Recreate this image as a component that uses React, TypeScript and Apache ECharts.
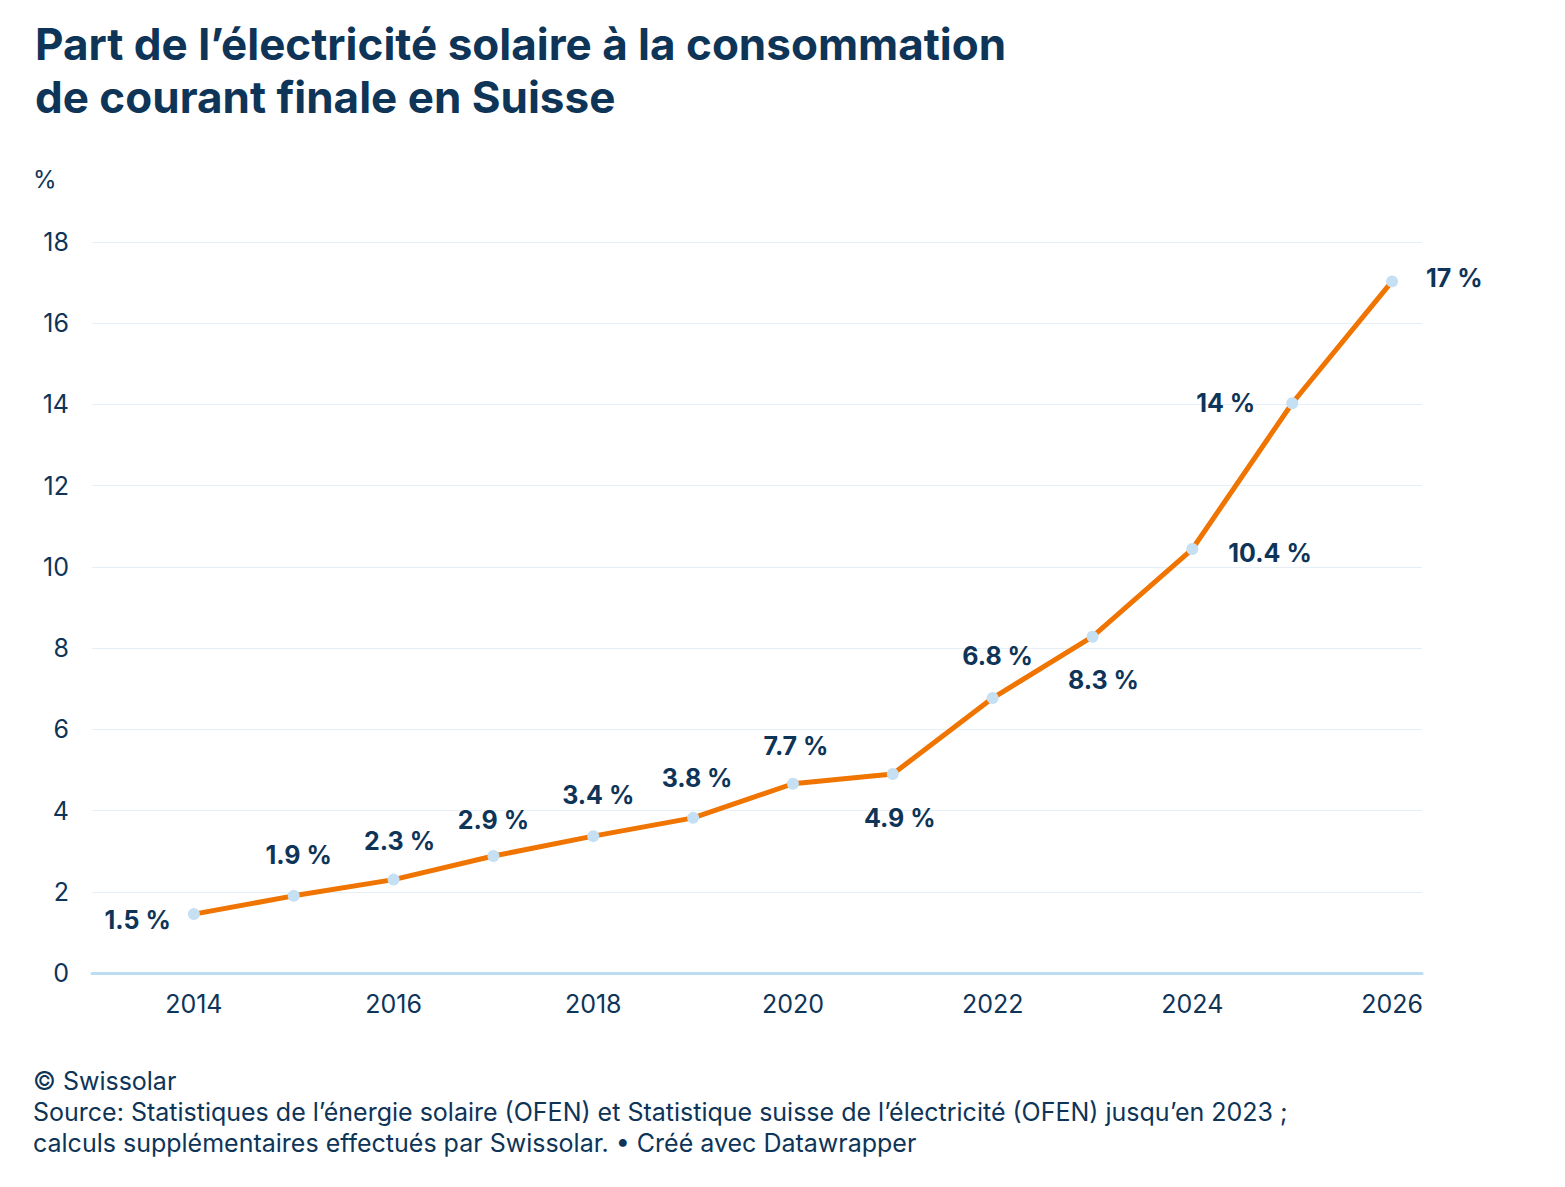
import React, { useEffect, useRef } from "react";
import * as echarts from "echarts";

const years = [2014, 2015, 2016, 2017, 2018, 2019, 2020, 2021, 2022, 2023, 2024, 2025, 2026];
const shares = [1.45, 1.9, 2.3, 2.88, 3.37, 3.82, 4.66, 4.9, 6.77, 8.28, 10.44, 14.03, 17.03];
const labelTexts = ["1.5 %", "1.9 %", "2.3 %", "2.9 %", "3.4 %", "3.8 %", "7.7 %", "4.9 %", "6.8 %", "8.3 %", "10.4 %", "14 %", "17 %"];
const yTicks = [0, 2, 4, 6, 8, 10, 12, 14, 16, 18];
const xTicks = [2014, 2016, 2018, 2020, 2022, 2024, 2026];

// label placement (style only)
const labelLayout: { position: string; distance: number; offset: number[] }[] = [
  { position: "left", distance: 17, offset: [0, 6] },
  { position: "top", distance: 22, offset: [5, 0] },
  { position: "top", distance: 20, offset: [6, 0] },
  { position: "top", distance: 18, offset: [0, 0] },
  { position: "top", distance: 23, offset: [5, 0] },
  { position: "top", distance: 21, offset: [4, 0] },
  { position: "top", distance: 19, offset: [3, 0] },
  { position: "bottom", distance: 25, offset: [7, 0] },
  { position: "top", distance: 24, offset: [5, 0] },
  { position: "bottom", distance: 25, offset: [11, 0] },
  { position: "right", distance: 30, offset: [0, 4] },
  { position: "left", distance: 31, offset: [0, 0] },
  { position: "right", distance: 28, offset: [0, -3] },
];

const NAVY = "#0e3458";
const FONT = "Inter, 'Noto Sans', sans-serif";

export default function App() {
  const ref = useRef<HTMLDivElement>(null);
  useEffect(() => {
    document.body.style.margin = "0";
    document.body.style.overflow = "hidden";
    const chart = echarts.init(ref.current!, undefined, { renderer: "svg" });
    const data = years.map((y, i) => ({
      value: [y, shares[i]],
      label: {
        show: true,
        position: labelLayout[i].position,
        distance: labelLayout[i].distance,
        offset: labelLayout[i].offset,
        formatter: () => labelTexts[i],
      },
    }));
    chart.setOption({
      animation: false,
      backgroundColor: "#ffffff",
      title: {
        text: "Part de l’électricité solaire à la consommation\nde courant finale en Suisse",
        left: 30,
        top: 12,
        textStyle: {
          fontFamily: FONT,
          fontSize: 44,
          fontWeight: 700,
          lineHeight: 53,
          color: NAVY,
        },
      },
      graphic: [
        {
          type: "text",
          left: 33,
          top: 167,
          style: { text: "%", font: `400 24px ${FONT}`, fill: NAVY },
        },
        {
          type: "text",
          left: 33,
          top: 1065,
          style: {
            text:
              "© Swissolar\nSource: Statistiques de l’énergie solaire (OFEN) et Statistique suisse de l’électricité (OFEN) jusqu’en 2023 ;\ncalculs supplémentaires effectués par Swissolar. • Créé avec Datawrapper",
            font: `400 25px ${FONT}`,
            lineHeight: 31,
            fill: NAVY,
          },
        },
      ],
      grid: { left: 92, right: 143, top: 242, bottom: 214 },
      xAxis: {
        type: "value",
        min: 2012.98,
        max: 2026.3,
        axisLine: { show: true, lineStyle: { color: "#bcdcf1", width: 3 } },
        axisTick: { show: false },
        splitLine: { show: false },
        axisLabel: {
          customValues: xTicks,
          margin: 18,
          fontFamily: FONT,
          fontSize: 25,
          color: NAVY,
          formatter: (v: number) => String(v),
        },
      },
      yAxis: {
        type: "value",
        min: 0,
        max: 18,
        interval: 2,
        axisLine: { show: false },
        axisTick: { show: false },
        splitLine: { show: true, lineStyle: { color: "#e6eff7", width: 1 } },
        axisLabel: {
          customValues: yTicks,
          margin: 23,
          fontFamily: FONT,
          fontSize: 25,
          color: NAVY,
        },
      },
      series: [
        {
          type: "line",
          data,
          symbol: "circle",
          symbolSize: 12,
          itemStyle: { color: "#c6e0f3" },
          lineStyle: { color: "#f07400", width: 5 },
          label: {
            fontFamily: FONT,
            fontSize: 25,
            fontWeight: 700,
            color: NAVY,
          },
          z: 3,
        },
      ],
    });
    return () => chart.dispose();
  }, []);
  return <div ref={ref} style={{ width: 1565, height: 1187 }} />;
}
